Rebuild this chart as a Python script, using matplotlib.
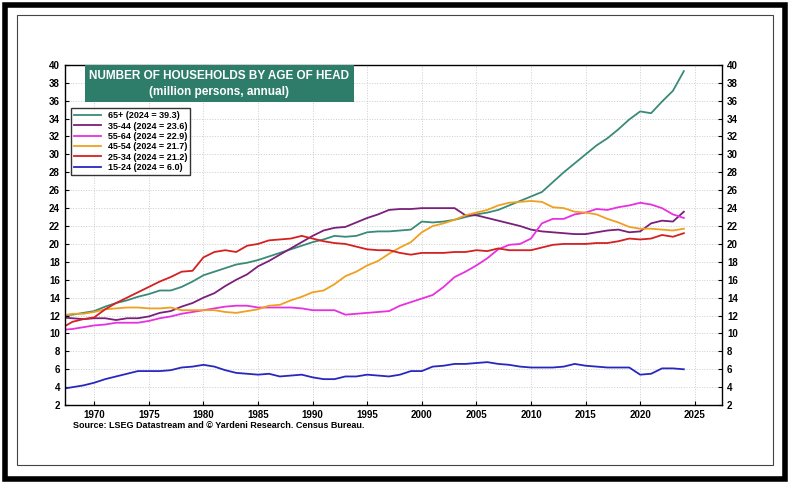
import numpy as np
import matplotlib
matplotlib.use("Agg")
import matplotlib.pyplot as plt
from matplotlib.patches import Rectangle

years = np.arange(1967, 2025)

age_65_plus = [12.0, 12.1, 12.3, 12.5, 13.0, 13.4, 13.7, 14.1, 14.4, 14.8, 14.8, 15.2, 15.8, 16.5, 16.9, 17.3,
               17.7, 17.9, 18.2, 18.6, 19.0, 19.4, 19.8, 20.2, 20.5, 20.9, 20.8, 20.9, 21.3, 21.4, 21.4, 21.5,
               21.6, 22.5, 22.4, 22.5, 22.7, 23.0, 23.3, 23.5, 23.8, 24.3, 24.8, 25.3, 25.8, 26.9, 28.0, 29.0,
               30.0, 31.0, 31.8, 32.8, 33.9, 34.8, 34.6, 35.9, 37.1, 39.3]
age_35_44 = [11.8, 11.7, 11.6, 11.7, 11.7, 11.5, 11.7, 11.7, 11.9, 12.3, 12.5, 13.0, 13.4, 14.0, 14.5, 15.3,
             16.0, 16.6, 17.5, 18.1, 18.8, 19.5, 20.2, 20.9, 21.5, 21.8, 21.9, 22.4, 22.9, 23.3, 23.8, 23.9,
             23.9, 24.0, 24.0, 24.0, 24.0, 23.2, 23.2, 22.9, 22.6, 22.3, 22.0, 21.6, 21.4, 21.3, 21.2, 21.1,
             21.1, 21.3, 21.5, 21.6, 21.3, 21.4, 22.3, 22.6, 22.5, 23.6]
age_55_64 = [10.4, 10.5, 10.7, 10.9, 11.0, 11.2, 11.2, 11.2, 11.4, 11.7, 11.9, 12.2, 12.4, 12.6, 12.8, 13.0,
             13.1, 13.1, 12.9, 12.9, 12.9, 12.9, 12.8, 12.6, 12.6, 12.6, 12.1, 12.2, 12.3, 12.4, 12.5, 13.1,
             13.5, 13.9, 14.3, 15.2, 16.3, 16.9, 17.6, 18.4, 19.4, 19.9, 20.0, 20.6, 22.3, 22.8, 22.8, 23.3,
             23.5, 23.9, 23.8, 24.1, 24.3, 24.6, 24.4, 24.0, 23.3, 22.9]
age_45_54 = [12.0, 12.2, 12.2, 12.4, 12.7, 12.8, 12.9, 12.9, 12.8, 12.8, 12.9, 12.6, 12.6, 12.6, 12.6, 12.4,
             12.3, 12.5, 12.7, 13.1, 13.2, 13.7, 14.1, 14.6, 14.8, 15.5, 16.4, 16.9, 17.6, 18.1, 18.9, 19.6,
             20.2, 21.3, 22.0, 22.3, 22.7, 23.2, 23.5, 23.8, 24.3, 24.6, 24.7, 24.8, 24.7, 24.1, 24.0, 23.6,
             23.5, 23.3, 22.8, 22.4, 21.9, 21.7, 21.7, 21.6, 21.5, 21.7]
age_25_34 = [10.6, 11.3, 11.6, 11.8, 12.7, 13.4, 14.0, 14.6, 15.2, 15.8, 16.3, 16.9, 17.0, 18.5, 19.1, 19.3,
             19.1, 19.8, 20.0, 20.4, 20.5, 20.6, 20.9, 20.6, 20.3, 20.1, 20.0, 19.7, 19.4, 19.3, 19.3, 19.0,
             18.8, 19.0, 19.0, 19.0, 19.1, 19.1, 19.3, 19.2, 19.5, 19.3, 19.3, 19.3, 19.6, 19.9, 20.0, 20.0,
             20.0, 20.1, 20.1, 20.3, 20.6, 20.5, 20.6, 21.0, 20.8, 21.2]
age_15_24 = [3.8, 4.0, 4.2, 4.5, 4.9, 5.2, 5.5, 5.8, 5.8, 5.8, 5.9, 6.2, 6.3, 6.5, 6.3, 5.9,
             5.6, 5.5, 5.4, 5.5, 5.2, 5.3, 5.4, 5.1, 4.9, 4.9, 5.2, 5.2, 5.4, 5.3, 5.2, 5.4,
             5.8, 5.8, 6.3, 6.4, 6.6, 6.6, 6.7, 6.8, 6.6, 6.5, 6.3, 6.2, 6.2, 6.2, 6.3, 6.6,
             6.4, 6.3, 6.2, 6.2, 6.2, 5.4, 5.5, 6.1, 6.1, 6.0]

series = [
    ("65+ (2024 = 39.3)", age_65_plus, "#3a8a78"),
    ("35-44 (2024 = 23.6)", age_35_44, "#7a1f7a"),
    ("55-64 (2024 = 22.9)", age_55_64, "#e830e0"),
    ("45-54 (2024 = 21.7)", age_45_54, "#f0a020"),
    ("25-34 (2024 = 21.2)", age_25_34, "#d42020"),
    ("15-24 (2024 = 6.0)", age_15_24, "#2828c0"),
]

plt.rcParams['font.family'] = ['Liberation Sans', 'DejaVu Sans']

fig = plt.figure(figsize=(7.9, 4.84), dpi=100)
fig.patches.append(Rectangle((0.006, 0.01), 0.988, 0.98, transform=fig.transFigure,
                             fill=False, lw=4, edgecolor='black'))
fig.patches.append(Rectangle((0.022, 0.04), 0.956, 0.93, transform=fig.transFigure,
                             fill=False, lw=0.8, edgecolor='#444444'))

ax = fig.add_axes([0.082, 0.163, 0.832, 0.703])
for label, vals, color in series:
    ax.plot(years, vals, color=color, lw=1.3, label=label)

ax.set_xlim(1967.3, 2027.5)
ax.set_ylim(2, 40)
ax.set_yticks(range(2, 41, 2))
ax.set_xticks(range(1970, 2026, 5))
ax.tick_params(labelsize=7, length=3, direction='in', right=True, labelright=True)
for lbl in ax.get_xticklabels() + ax.get_yticklabels():
    lbl.set_fontweight('bold')
ax.grid(True, color='#cccccc', ls=':', lw=0.7)
for s in ax.spines.values():
    s.set_linewidth(1.0)

ax.text(0.022, 0.985, "NUMBER OF HOUSEHOLDS BY AGE OF HEAD\n(million persons, annual)",
        transform=ax.transAxes, ha='center', va='top', color='white', fontsize=8.5,
        fontweight='bold', linespacing=1.4,
        bbox=dict(boxstyle='square,pad=0.4', fc='#2e7d6b', ec='none'),
        position=(0.235, 0.985))

leg = ax.legend(loc='upper left', bbox_to_anchor=(0.003, 0.885), fontsize=6.5, frameon=True,
                fancybox=False, edgecolor='black', handlelength=3, labelspacing=0.15,
                borderpad=0.3, prop={'weight': 'bold', 'size': 6.5})
leg.get_frame().set_linewidth(1.0)

fig.text(0.093, 0.115, "Source: LSEG Datastream and \u00a9 Yardeni Research. Census Bureau.",
         fontsize=6.5, fontweight='bold')

fig.savefig("out.png", dpi=100)
